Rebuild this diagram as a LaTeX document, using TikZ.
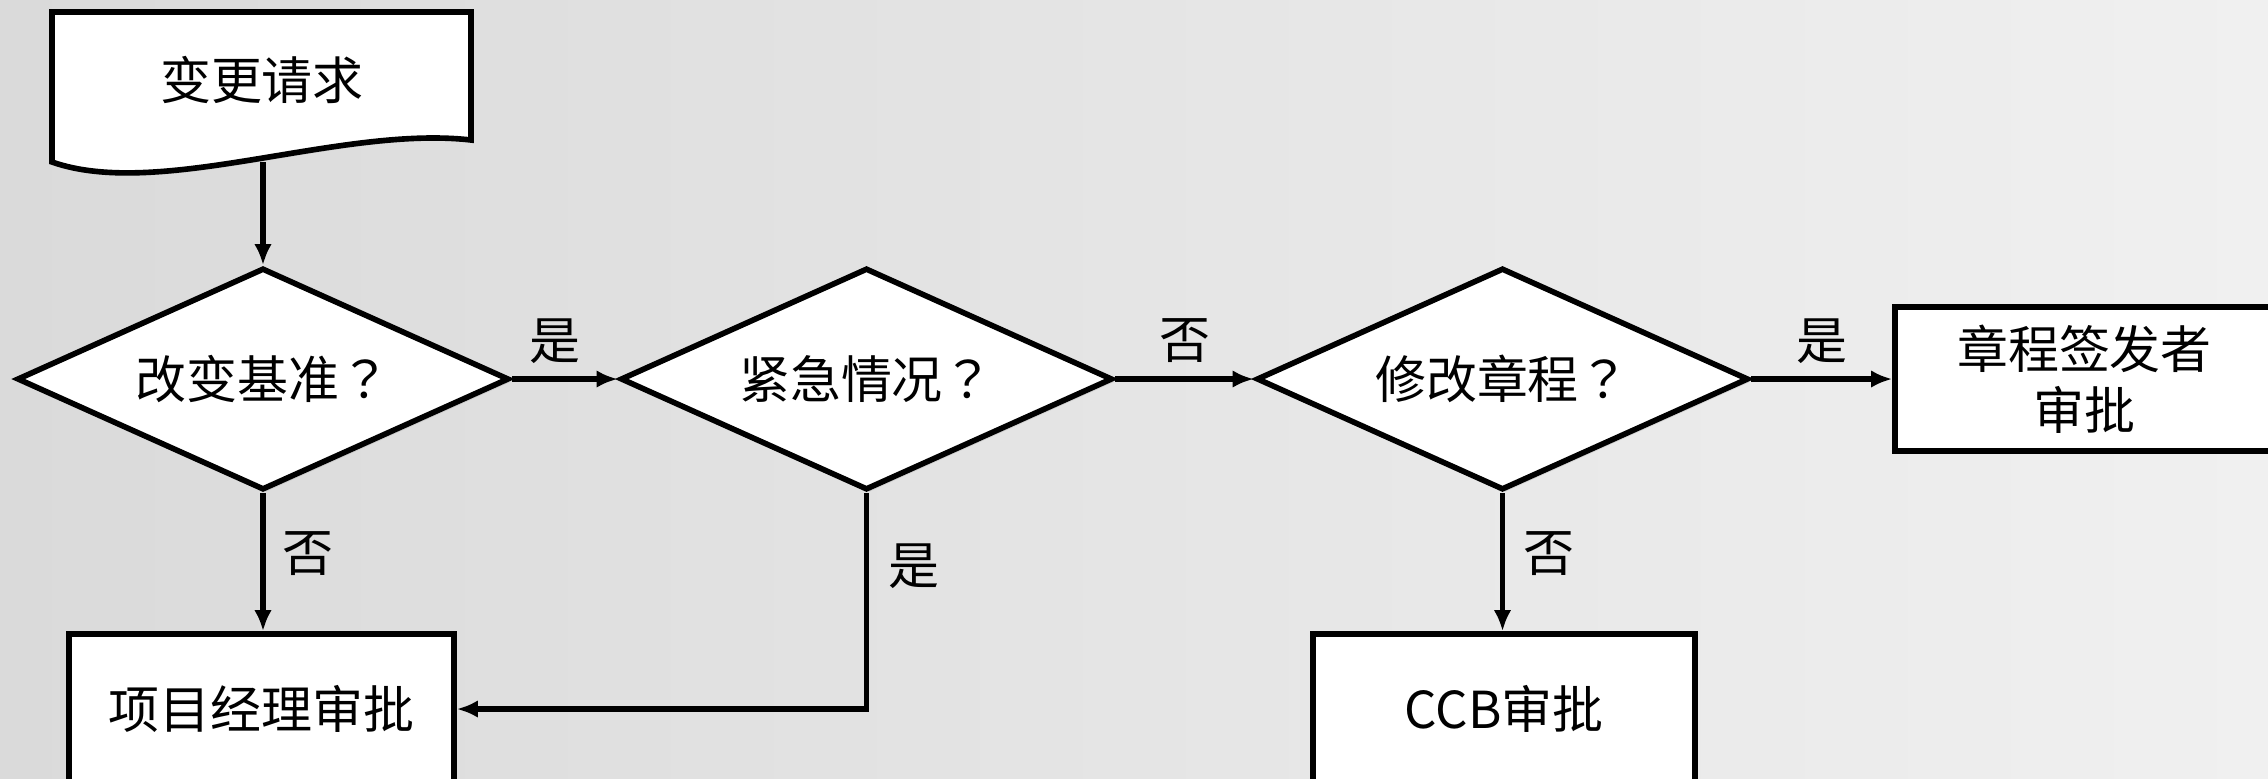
\documentclass[tikz,border=0pt]{standalone}
\usepackage{fontspec}
\setmainfont{Noto Sans CJK SC}
\newfontfamily\tcfont{Noto Sans CJK TC}
\usetikzlibrary{shapes.geometric,arrows.meta,shadows}
\definecolor{bgleft}{RGB}{218,218,218}
\definecolor{bgright}{RGB}{240,240,240}
\newcommand{\qm}{{\tcfont ？}}
\begin{document}
\begin{tikzpicture}[
  font=\fontsize{14.5}{17.4}\selectfont,
  shp/.style={draw=black, line width=1.6pt, fill=white,
    drop shadow={shadow xshift=0.8pt, shadow yshift=-0.8pt, opacity=0.2}},
  decision/.style={shp, diamond, aspect=2.2, minimum width=4.92cm, minimum height=2.22cm, inner sep=0pt},
  process/.style={shp, rectangle, align=center, inner sep=0pt},
  conn/.style={draw=black, line width=1.5pt, -{Latex[length=6pt,width=5pt]}},
  lbl/.style={inner sep=0pt, anchor=center}
]
\useasboundingbox (0,0) rectangle (22.68,-7.78);
\clip (0,0) rectangle (22.68,-7.78);
\shade[left color=bgleft, right color=bgright] (0,0) rectangle (22.68,-7.78);

% document shape
\draw[shp] (0.52,-0.12) -- (4.71,-0.12) -- (4.71,-1.40)
  .. controls (3.4,-1.25) and (1.6,-2.0) .. (0.52,-1.62) -- cycle;
\node (req) at (2.62,-0.80) {变更请求};
\coordinate (reqb) at (2.63,-1.62);

% decisions
\node[decision] (d1) at (2.63,-3.79) {改变基准\qm};
\node[decision] (d2) at (8.665,-3.79) {紧急情况\qm};
\node[decision] (d3) at (15.025,-3.79) {修改章程\qm};

% processes
\node[process, minimum width=3.79cm, minimum height=1.44cm] (sp) at (20.845,-3.79) {章程签发者\\审批};
\node[process, minimum width=3.85cm, minimum height=1.50cm] (pm) at (2.615,-7.09) {项目经理审批};
\node[process, minimum width=3.82cm, minimum height=1.50cm] (ccb) at (15.04,-7.09) {CCB审批};

% connectors
\draw[conn] (reqb) -- (d1.north);
\draw[conn] (d1.east) -- node[lbl, yshift=0.38cm, xshift=-0.1cm] {是} (d2.west);
\draw[conn] (d2.east) -- node[lbl, yshift=0.38cm] {否} (d3.west);
\draw[conn] (d3.east) -- node[lbl, yshift=0.38cm] {是} (sp.west);
\draw[conn] (d1.south) -- node[lbl, pos=0.44, xshift=0.45cm] {否} (d1.south |- pm.north);
\draw[conn] (d2.south) |- node[lbl, pos=0.17, xshift=0.47cm] {是} (pm.east);
\draw[conn] (d3.south) -- node[lbl, pos=0.44, xshift=0.46cm] {否} (d3.south |- ccb.north);
\end{tikzpicture}
\end{document}
